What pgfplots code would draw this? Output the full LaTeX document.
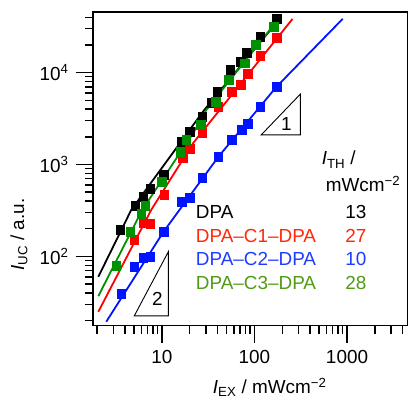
\documentclass[border=0pt]{standalone}
\usepackage{fontspec}
\setmainfont{Liberation Sans}
\usepackage{pgfplots}
\pgfplotsset{compat=1.18}
\usetikzlibrary{calc}

\definecolor{mred}{RGB}{255,0,0}
\definecolor{mblue}{RGB}{0,20,255}
\definecolor{mgreen}{RGB}{0,145,0}
\definecolor{tred}{RGB}{255,40,10}
\definecolor{tblue}{RGB}{30,60,255}
\definecolor{tgreen}{RGB}{80,155,20}

\begin{document}
\fontsize{19}{22}\selectfont
\begin{tikzpicture}
\begin{axis}[
    name=ax,
    xmode=log, ymode=log,
    scale only axis,
    width=315bp, height=314bp,
    xmin=1.8, xmax=4500,
    ymin=17.7, ymax=45600,
    axis line style={line width=1.6bp},
    tick align=outside,
    xtick pos=left, ytick pos=left,
    major tick length=17bp, minor tick length=8bp,
    every tick/.style={black, line width=1.4bp},
    xtick={10,100,1000},
    xticklabels={10,100,1000},
    minor xtick={2,3,4,5,6,7,8,9,20,30,40,50,60,70,80,90,200,300,400,500,600,700,800,900,2000,3000,4000},
    ytick={100,1000,10000},
    yticklabels={10\textsuperscript{2},10\textsuperscript{3},10\textsuperscript{4}},
    minor ytick={20,30,40,50,60,70,80,90,200,300,400,500,600,700,800,900,2000,3000,4000,5000,6000,7000,8000,9000,20000,30000,40000},
    tick label style={font=\fontsize{19}{22}\selectfont},
    xticklabel style={yshift=-1bp},
    yticklabel style={xshift=-1bp},
    xlabel={\textit{I}\textsubscript{EX} / mWcm\textsuperscript{−2}},
    ylabel={\textit{I}\textsubscript{UC} / a.u.},
    xlabel style={at={(rel axis cs:0.562,-0.197)}, anchor=center},
    ylabel style={at={(rel axis cs:-0.235,0.29)}, anchor=center},
    clip=false,
]
% fitted lines
\addplot[black, line width=1.8bp] coordinates {
    (2.06,60) (4.68,322) (21.9,2705) (28.8,3935) (187,38400)
};
\addplot[mred, line width=1.8bp] coordinates {
    (2.06,25) (7.69,322) (21.9,1722) (258,38400)
};
\addplot[mblue, line width=1.8bp] coordinates {
    (2.51,19.5) (10.4,185) (40.8,1214) (173,7000) (898,38400)
};
\addplot[mgreen, line width=1.8bp] coordinates {
    (2.06,37) (6.15,322) (21.9,2213) (30.3,3935) (182,38400)
};
% measured data
\addplot[only marks, mark=square*, mark size=4.3bp, black] coordinates {
    (3.56,196) (5.17,356) (6.31,446) (7.5,545) (10.4,773) (16.3,1766)
    (19.9,2270) (27.4,3300) (34.3,4680) (39.8,6160) (55,10700)
    (70.7,13100) (82,16400) (116,24400) (173,38400)
};
\addplot[only marks, mark=square*, mark size=4.3bp, mred] coordinates {
    (5.03,152) (6.31,232) (7.5,227) (10.6,469) (16.7,1183) (19.9,1483)
    (27.4,2210) (40.8,4240) (56.5,6160) (70.7,7340) (84.2,9680)
    (116,15200) (173,23900)
};
\addplot[only marks, mark=square*, mark size=4.3bp, mblue] coordinates {
    (3.65,39.4) (5.03,77.3) (6.31,96.8) (7.5,99.3) (10.4,185) (16.3,393)
    (19.9,435) (27.4,716) (40.8,1214) (56.5,1855) (72.4,2380)
    (84.2,2770) (116,4240) (173,7000)
};
\addplot[only marks, mark=square*, mark size=4.3bp, mgreen] coordinates {
    (3.22,79) (4.56,185) (6.0,291) (6.63,356) (9.9,649) (15.8,1375)
    (18.4,1855) (26.1,2700) (37.9,4810) (52.5,8340) (78.2,12700)
    (103,20000) (161,31400)
};
% slope triangles
\draw[line width=0.9bp] (axis cs:118.6,2104) -- (axis cs:313,2104) -- (axis cs:313,5826) -- cycle;
\node at (axis cs:222,2767) {1};
\draw[line width=0.9bp] (axis cs:5.04,22.6) -- (axis cs:11.75,22.6) -- (axis cs:11.75,112.5) -- cycle;
\node at (axis cs:8.94,34.7) {2};
% legend text
\begin{scope}[every node/.style={inner sep=0pt}]
\node[anchor=west] at (rel axis cs:0.727,0.529) {\textit{I}\textsubscript{TH} /};
\node[anchor=west] at (rel axis cs:0.740,0.452) {mWcm\textsuperscript{−2}};
\node[anchor=west] at (rel axis cs:0.327,0.363) {DPA};
\node[anchor=west, text=tred] at (rel axis cs:0.327,0.287) {DPA–C1–DPA};
\node[anchor=west, text=tblue] at (rel axis cs:0.327,0.213) {DPA–C2–DPA};
\node[anchor=west, text=tgreen] at (rel axis cs:0.327,0.137) {DPA–C3–DPA};
\node[anchor=east] at (rel axis cs:0.870,0.363) {13};
\node[anchor=east, text=tred] at (rel axis cs:0.870,0.287) {27};
\node[anchor=east, text=tblue] at (rel axis cs:0.870,0.213) {10};
\node[anchor=east, text=tgreen] at (rel axis cs:0.870,0.137) {28};
\end{scope}
\end{axis}
\pgfresetboundingbox
\path[use as bounding box] ($(ax.south west)+(-93bp,-83bp)$) rectangle ($(ax.north east)+(1.5bp,12bp)$);
\end{tikzpicture}
\end{document}
